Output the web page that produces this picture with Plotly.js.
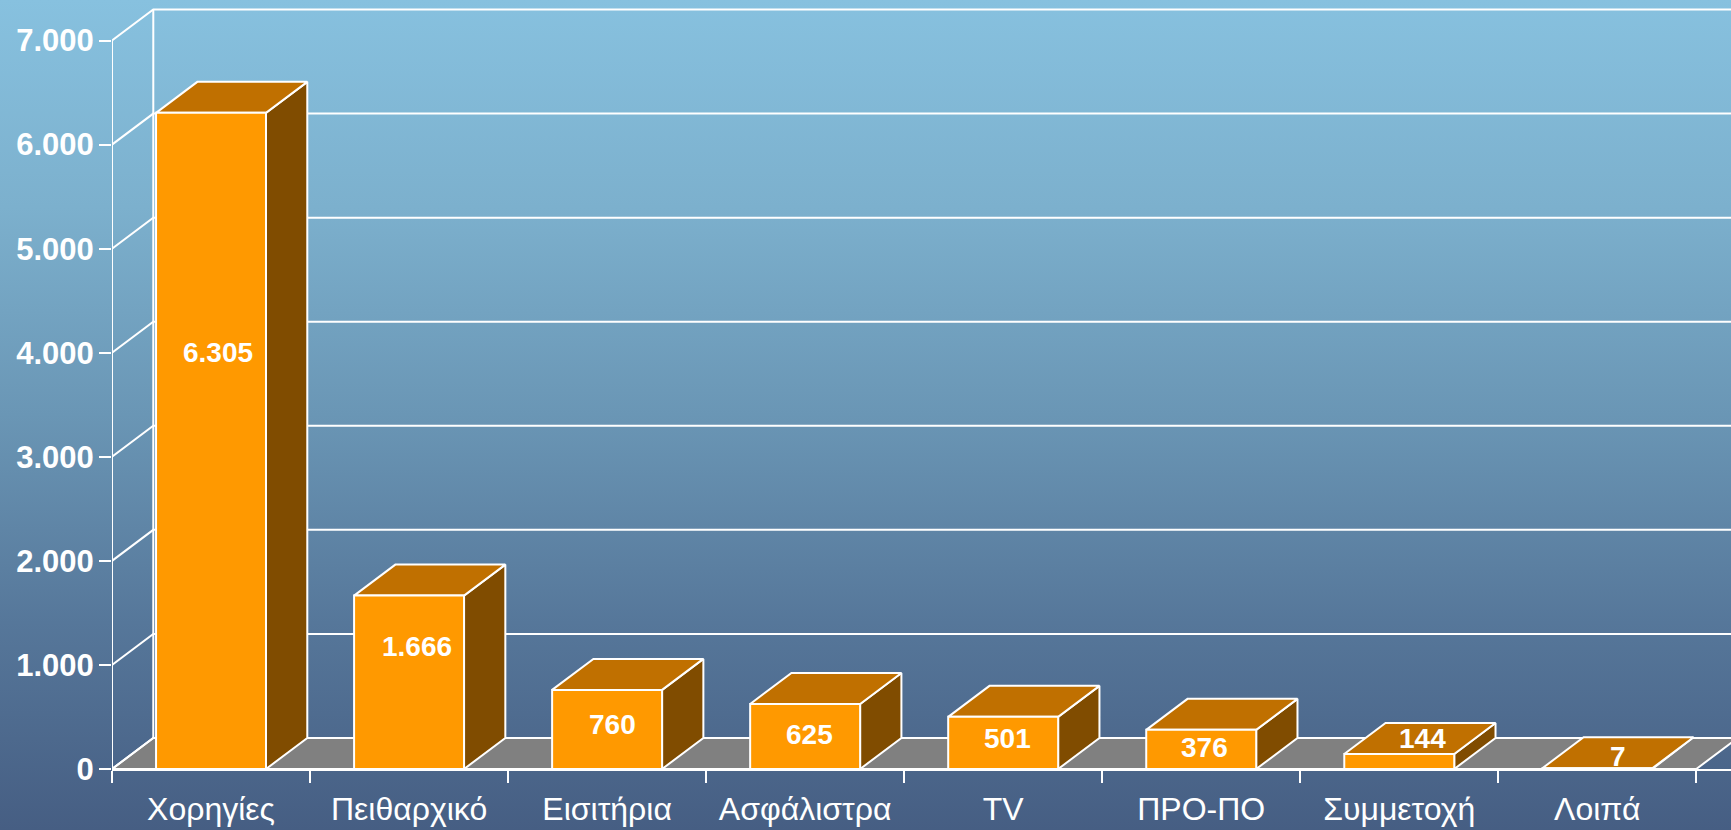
<!DOCTYPE html>
<html><head><meta charset="utf-8">
<script src="https://cdn.plot.ly/plotly-3.0.1.min.js"></script>
<style>
html,body{margin:0;padding:0;width:1731px;height:830px;overflow:hidden;
background:linear-gradient(180deg,#87C1DF 0%,#7CB0CD 25%,#6A96B5 50%,#56779A 75%,#465E83 100%);}
#chart{width:1731px;height:830px;}
</style></head><body><div id="chart"></div>
<script>
// ---- data ----
const categories = ["Χορηγίες","Πειθαρχικό","Εισιτήρια","Ασφάλιστρα","TV","ΠΡΟ-ΠΟ","Συμμετοχή","Λοιπά"];
const values = [6305,1666,760,625,501,376,144,7];
const valueLabels = ["6.305","1.666","760","625","501","376","144","7"];
const yTicks = [0,1000,2000,3000,4000,5000,6000,7000];
const yTickLabels = ["0","1.000","2.000","3.000","4.000","5.000","6.000","7.000"];

// ---- style / geometry (not data) ----
const labelHeights = [4000,1180,430,334,290,210,290,122];
const labelNudges = [0.035,0.04,0.025,0.02,0.02,0.018,0.115,0.105];
const WIDTH=1731, HEIGHT=830, LEFT=111.5, BOTTOM=61.2;
const catPx=198.1, pxPerUnit=0.10404;
const depthX=41.3/catPx, depthY=31/pxPerUnit, barW=110/catPx;
const xMax=(WIDTH-LEFT)/catPx, yMax=(HEIGHT-BOTTOM)/pxPerUnit;
const n=categories.length;
const WHITE='#ffffff', LW=2;

function polyTrace(xs,ys,fill,name){
  return {type:'scatter',mode:'lines',x:xs,y:ys,fill:'toself',fillcolor:fill,
    line:{color:WHITE,width:LW},hoverinfo:'skip',showlegend:false,name:name,xaxis:'x',yaxis:'y',cliponaxis:false};
}
const yTopTick=yTicks[yTicks.length-1];
// floor
const floorFace=polyTrace([0,depthX,n+depthX,n,0],[0,depthY,depthY,0,0],'#808080','floor');
// wall gridlines, side-wall slants, wall edges
const gx=[],gy=[];
yTicks.forEach(v=>{
  gx.push(0,depthX,xMax,null); gy.push(v,v+depthY,v+depthY,null);
});
gx.push(depthX,depthX,null,0,0); gy.push(depthY,yTopTick+depthY,null,0,yTopTick);
const grid={type:'scatter',mode:'lines',x:gx,y:gy,line:{color:WHITE,width:LW},hoverinfo:'skip',showlegend:false,xaxis:'x',yaxis:'y',cliponaxis:false};
// bar top and side faces
const tx=[],ty=[],sx=[],sy=[];
values.forEach((v,i)=>{
  const a=i+0.5-barW/2,b=i+0.5+barW/2;
  tx.push(a,a+depthX,b+depthX,b,a,null); ty.push(v,v+depthY,v+depthY,v,v,null);
  sx.push(b,b+depthX,b+depthX,b,b,null); sy.push(0,depthY,v+depthY,v,0,null);
});
const sideFace=polyTrace(sx,sy,'#804C00','side');
const topFace=polyTrace(tx,ty,'#C07000','top');
// front faces on the category axis
const bars={type:'bar',x:categories,y:values,width:barW,xaxis:'x2',yaxis:'y',
  marker:{color:'#FF9900',line:{color:WHITE,width:LW}},hoverinfo:'skip',showlegend:false};

const annotations=values.map((v,i)=>({xref:'x',yref:'y',x:i+0.5+labelNudges[i],y:labelHeights[i],
  text:valueLabels[i],showarrow:false,xanchor:'center',yanchor:'middle',
  font:{family:'"Liberation Sans",Arial,sans-serif',size:28,color:WHITE,weight:700}}));

const layout={
  width:WIDTH,height:HEIGHT,margin:{l:LEFT,r:0,t:0,b:BOTTOM,pad:0},
  paper_bgcolor:'rgba(0,0,0,0)',plot_bgcolor:'rgba(0,0,0,0)',
  hovermode:false,showlegend:false,annotations:annotations,
  xaxis:{type:'linear',range:[0,xMax],visible:false,fixedrange:true},
  xaxis2:{type:'category',overlaying:'x',anchor:'y',side:'bottom',categoryorder:'array',categoryarray:categories,
    range:[-0.5,xMax-0.5],tickson:'boundaries',ticks:'outside',ticklen:12,tickwidth:LW,tickcolor:WHITE,
    showline:true,linecolor:WHITE,linewidth:LW,showgrid:false,zeroline:false,fixedrange:true,tickangle:0,
    ticklabelstandoff:11,
    tickfont:{family:'"Liberation Sans",Arial,sans-serif',size:32,color:WHITE}},
  yaxis:{range:[0,yMax],tickmode:'array',tickvals:yTicks,ticktext:yTickLabels,ticks:'outside',ticklen:12,
    tickwidth:LW,tickcolor:WHITE,showline:false,showgrid:false,zeroline:false,fixedrange:true,
    ticklabelstandoff:-1,
    tickfont:{family:'"Liberation Sans",Arial,sans-serif',size:31,color:WHITE,weight:700}}
};
Plotly.newPlot('chart',[floorFace,grid,sideFace,topFace,bars],layout,{displayModeBar:false,staticPlot:true});
</script></body></html>
